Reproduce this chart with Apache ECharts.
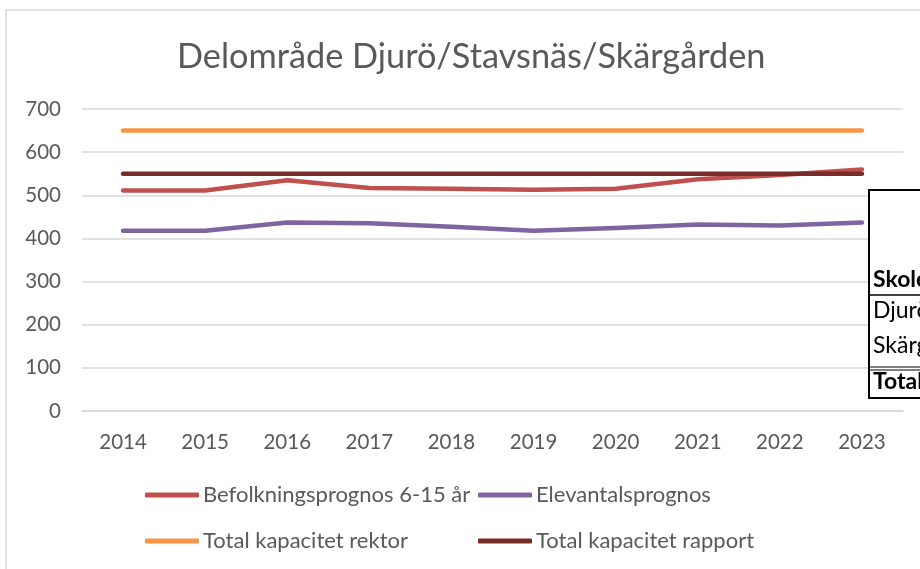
<!DOCTYPE html>
<html>
<head>
<meta charset="utf-8">
<style>
  html, body { margin: 0; padding: 0; background: #fff; }
  #chart { width: 920px; height: 569px; }
</style>
<script src="https://cdn.jsdelivr.net/npm/echarts@6/dist/echarts.min.js"></script>
</head>
<body>
<div id="chart"></div>
<script>
// data
var years = ['2014', '2015', '2016', '2017', '2018', '2019', '2020', '2021', '2022', '2023']
var befolkning = [511, 511, 535, 517, 515, 513, 515, 537, 547, 560]
var elevantal = [418, 418, 437, 435, 427, 418, 424, 432, 430, 437]
var kapRektor = [650, 650, 650, 650, 650, 650, 650, 650, 650, 650]
var kapRapport = [550, 550, 550, 550, 550, 550, 550, 550, 550, 550]
var seriesNames = ['Befolkningsprognos 6-15 år', 'Elevantalsprognos', 'Total kapacitet rektor', 'Total kapacitet rapport']
var tableRows = ['Skolenhet', 'Djurö', 'Skärgården', 'Totalt']

var font = 'Lato, "Open Sans", sans-serif'
var txt = '#595959'

function line(name, data, color) {
  return {
    name: name,
    type: 'line',
    data: data,
    symbol: 'none',
    lineStyle: { color: color, width: 4.5, cap: 'round', join: 'round' },
    itemStyle: { color: color },
    animation: false
  }
}

function legendItem(name, left, top) {
  return {
    data: [name],
    left: left,
    top: top,
    icon: 'roundRect',
    itemWidth: 54,
    itemHeight: 5,
    itemGap: 0,
    textStyle: { color: txt, fontSize: 22, fontFamily: font, padding: [0, 0, 0, -1] }
  }
}

var chart = echarts.init(document.getElementById('chart'))
chart.setOption({
  backgroundColor: '#fff',
  title: {
    text: 'Delområde Djurö/Stavsnäs/Skärgården',
    left: 172,
    top: 35,
    textStyle: { color: txt, fontSize: 34.3, fontWeight: 'normal', fontFamily: font }
  },
  grid: { left: 82, right: 17, top: 109, bottom: 158, containLabel: false },
  xAxis: {
    type: 'category',
    data: years,
    boundaryGap: true,
    axisLine: { lineStyle: { color: '#d9d9d9', width: 1.5 } },
    axisTick: { show: false },
    axisLabel: { color: txt, fontSize: 20.5, fontFamily: font, margin: 21 }
  },
  yAxis: {
    type: 'value',
    min: 0,
    max: 700,
    interval: 100,
    axisLine: { show: false },
    axisTick: { show: false },
    splitLine: { lineStyle: { color: '#d9d9d9', width: 1.5 } },
    axisLabel: { color: txt, fontSize: 20.5, fontFamily: font, margin: 21 }
  },
  legend: [
    legendItem(seriesNames[0], 140, 479),
    legendItem(seriesNames[1], 473, 479),
    legendItem(seriesNames[2], 140, 525),
    legendItem(seriesNames[3], 473, 525)
  ],
  series: [
    line(seriesNames[0], befolkning, '#c0504d'),
    line(seriesNames[1], elevantal, '#8064a2'),
    line(seriesNames[2], kapRektor, '#f79646'),
    line(seriesNames[3], kapRapport, '#772c2a')
  ],
  graphic: [
    { type: 'rect', shape: { x: 6, y: 10, width: 940, height: 600 }, style: { fill: 'none', stroke: '#d9d9d9', lineWidth: 1.5 }, silent: true, z: -1 },
    { type: 'rect', shape: { x: 869, y: 190, width: 80, height: 208 }, style: { fill: '#fff', stroke: '#000', lineWidth: 2 }, z: 100 },
    { type: 'line', shape: { x1: 869, y1: 295, x2: 930, y2: 295 }, style: { stroke: '#000', lineWidth: 1.5 }, z: 101 },
    { type: 'line', shape: { x1: 869, y1: 367, x2: 930, y2: 367 }, style: { stroke: '#000', lineWidth: 1 }, z: 101 },
    { type: 'line', shape: { x1: 869, y1: 370, x2: 930, y2: 370 }, style: { stroke: '#000', lineWidth: 1 }, z: 101 },
    { type: 'text', left: 873, top: 268, style: { text: tableRows[0], fill: '#000', font: 'bold 23px ' + font }, z: 102 },
    { type: 'text', left: 873, top: 299, style: { text: tableRows[1], fill: '#000', font: '23px ' + font }, z: 102 },
    { type: 'text', left: 873, top: 334, style: { text: tableRows[2], fill: '#000', font: '23px ' + font }, z: 102 },
    { type: 'text', left: 873, top: 370, style: { text: tableRows[3], fill: '#000', font: 'bold 23px ' + font }, z: 102 }
  ]
})
</script>
</body>
</html>
